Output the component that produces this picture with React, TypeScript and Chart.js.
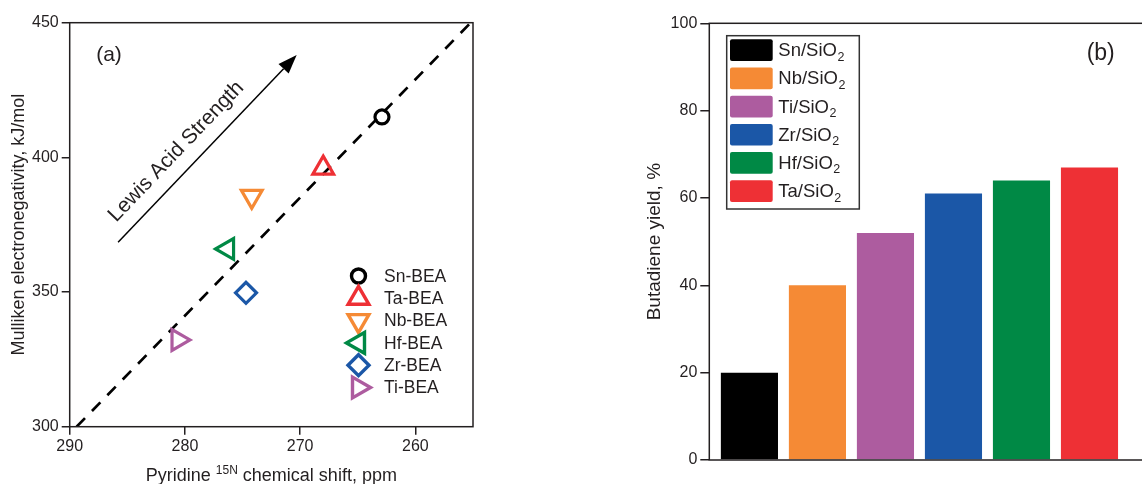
import React, { useEffect, useRef } from "react";
import { Chart, registerables } from "chart.js";

Chart.register(...registerables);

const FONT = "'Liberation Sans', Arial, Helvetica, sans-serif";
const INK = "#231f20";

// ---------- Panel (a) data ----------
const samples = ["Sn-BEA", "Ta-BEA", "Nb-BEA", "Hf-BEA", "Zr-BEA", "Ti-BEA"];
const pyridineShift = [262.9, 268.0, 274.2, 276.3, 274.7, 280.6];
const mullikenEN = [415.0, 396.0, 385.5, 366.0, 349.7, 332.2];
const sampleColors = ["#000000", "#ee3035", "#f58a35", "#008945", "#1b57a7", "#ad5c9f"];
const sampleMarkers = ["circle", "triangle", "triangle", "triangle", "rectRot", "triangle"];
const markerRotation = [0, 0, 180, -90, 0, 90];
const markerRadius = [7, 12, 12, 12, 10.5, 12];
const fitShift = [289.4, 255.2];
const fitEN = [300, 450];
const arrowShift = [285.8, 270.3];
const arrowEN = [368.5, 438];
const shiftTicks = [290, 280, 270, 260];
const enTicks = [300, 350, 400, 450];

// ---------- Panel (b) data ----------
const catalystMetals = ["Sn", "Nb", "Ti", "Zr", "Hf", "Ta"];
const butadieneYield = [20, 40, 52, 61, 64, 67];
const catalystColors = ["#000000", "#f58a35", "#ad5c9f", "#1b57a7", "#008945", "#ee3035"];
const yieldTicks = [0, 20, 40, 60, 80, 100];

function drawMarker(ctx: CanvasRenderingContext2D, style: string, x: number, y: number, r: number, rotDeg: number) {
  const rad = (rotDeg * Math.PI) / 180;
  ctx.beginPath();
  if (style === "circle") {
    ctx.arc(x, y, r, 0, Math.PI * 2);
  } else if (style === "triangle") {
    for (let k = 0; k < 3; k++) {
      const a = rad + (k * 2 * Math.PI) / 3;
      const px = x + Math.sin(a) * r;
      const py = y - Math.cos(a) * r;
      if (k === 0) ctx.moveTo(px, py);
      else ctx.lineTo(px, py);
    }
    ctx.closePath();
  } else {
    ctx.moveTo(x - r, y);
    ctx.lineTo(x, y - r);
    ctx.lineTo(x + r, y);
    ctx.lineTo(x, y + r);
    ctx.closePath();
  }
  ctx.stroke();
}

const framePlugin = {
  id: "frame",
  afterDatasetsDraw(chart: any) {
    const { ctx, chartArea } = chart;
    ctx.save();
    ctx.strokeStyle = INK;
    ctx.lineWidth = 1.5;
    ctx.strokeRect(chartArea.left, chartArea.top, chartArea.right - chartArea.left, chartArea.bottom - chartArea.top);
    ctx.restore();
  },
};

const panelAExtras = {
  id: "panelAExtras",
  afterDraw(chart: any) {
    const { ctx, scales, chartArea } = chart;
    const xs = scales.x;
    const ys = scales.y;
    ctx.save();
    // arrow
    const x0 = xs.getPixelForValue(arrowShift[0]);
    const y0 = ys.getPixelForValue(arrowEN[0]);
    const x1 = xs.getPixelForValue(arrowShift[1]);
    const y1 = ys.getPixelForValue(arrowEN[1]);
    const len = Math.hypot(x1 - x0, y1 - y0);
    const dx = (x1 - x0) / len;
    const dy = (y1 - y0) / len;
    const nx = dy; // normal pointing up-left
    const ny = -dx;
    const head = 19;
    const hw = 7;
    ctx.strokeStyle = "#000";
    ctx.fillStyle = "#000";
    ctx.lineWidth = 1.5;
    ctx.beginPath();
    ctx.moveTo(x0, y0);
    ctx.lineTo(x1 - dx * head, y1 - dy * head);
    ctx.stroke();
    ctx.beginPath();
    ctx.moveTo(x1, y1);
    ctx.lineTo(x1 - dx * head + nx * hw, y1 - dy * head + ny * hw);
    ctx.lineTo(x1 - dx * head - nx * hw, y1 - dy * head - ny * hw);
    ctx.closePath();
    ctx.fill();
    // rotated label
    const mx = (x0 + x1) / 2 - dx * 23.7 + nx * 20.5;
    const my = (y0 + y1) / 2 - dy * 23.7 + ny * 20.5;
    ctx.translate(mx, my);
    ctx.rotate(Math.atan2(dy, dx));
    ctx.font = `21px ${FONT}`;
    ctx.fillStyle = INK;
    ctx.textAlign = "center";
    ctx.textBaseline = "middle";
    ctx.fillText("Lewis Acid Strength", 0, 0);
    ctx.setTransform(1, 0, 0, 1, 0, 0);
    ctx.restore();

    ctx.save();
    // (a)
    ctx.font = `21px ${FONT}`;
    ctx.fillStyle = INK;
    ctx.textAlign = "center";
    ctx.textBaseline = "middle";
    ctx.fillText("(a)", 109, 55);

    // legend
    ctx.lineWidth = 3.4;
    ctx.font = `17.5px ${FONT}`;
    ctx.textAlign = "left";
    samples.forEach((s, i) => {
      const ly = 276 + i * 22.3;
      ctx.strokeStyle = sampleColors[i];
      drawMarker(ctx, sampleMarkers[i], 358.5, ly, markerRadius[i], markerRotation[i]);
      ctx.fillStyle = INK;
      ctx.fillText(s, 384, ly + 1);
    });

    // x title with superscript
    const cx = (chartArea.left + chartArea.right) / 2;
    const base = 481;
    const big = `18px ${FONT}`;
    const small = `12px ${FONT}`;
    const p1 = "Pyridine ";
    const p2 = "15N";
    const p3 = " chemical shift, ppm";
    ctx.textBaseline = "alphabetic";
    ctx.font = big;
    const w1 = ctx.measureText(p1).width;
    const w3 = ctx.measureText(p3).width;
    ctx.font = small;
    const w2 = ctx.measureText(p2).width;
    let sx = cx - (w1 + w2 + w3) / 2;
    ctx.font = big;
    ctx.fillText(p1, sx, base);
    sx += w1;
    ctx.font = small;
    ctx.fillText(p2, sx, base - 7);
    sx += w2;
    ctx.font = big;
    ctx.fillText(p3, sx, base);
    ctx.restore();
  },
};

const panelBExtras = {
  id: "panelBExtras",
  afterDraw(chart: any) {
    const { ctx } = chart;
    const ox = 580; // canvas left offset in page
    ctx.save();
    // legend box
    ctx.strokeStyle = "#333";
    ctx.lineWidth = 1.5;
    ctx.strokeRect(726.7 - ox, 35.7, 132.6, 173.3);
    catalystMetals.forEach((m, i) => {
      const top = 39.3 + i * 28.2;
      ctx.fillStyle = catalystColors[i];
      ctx.beginPath();
      (ctx as any).roundRect ? (ctx as any).roundRect(730 - ox, top, 42.7, 21.7, 2) : ctx.rect(730 - ox, top, 42.7, 21.7);
      ctx.fill();
      const cy = top + 21.7 / 2;
      ctx.fillStyle = INK;
      ctx.textAlign = "left";
      ctx.textBaseline = "middle";
      ctx.font = `18.5px ${FONT}`;
      const main = `${m}/SiO`;
      ctx.fillText(main, 778.3 - ox, cy + 1);
      const w = ctx.measureText(main).width;
      ctx.font = `12.5px ${FONT}`;
      ctx.fillText("2", 778.3 - ox + w + 0.5, cy + 7);
    });
    // (b)
    ctx.font = `23px ${FONT}`;
    ctx.fillStyle = INK;
    ctx.textAlign = "center";
    ctx.textBaseline = "middle";
    ctx.fillText("(b)", 1100.7 - ox, 53.3);
    ctx.restore();
  },
};

export default function App() {
  const refA = useRef<HTMLCanvasElement | null>(null);
  const refB = useRef<HTMLCanvasElement | null>(null);

  useEffect(() => {
    Chart.defaults.font.family = FONT;
    Chart.defaults.color = INK;

    const scatterSets: any[] = samples.map((s, i) => ({
      type: "scatter",
      label: s,
      data: [{ x: pyridineShift[i], y: mullikenEN[i] }],
      pointStyle: sampleMarkers[i],
      pointRotation: markerRotation[i],
      pointRadius: markerRadius[i],
      pointHoverRadius: markerRadius[i],
      pointBorderWidth: 3.2,
      pointHoverBorderWidth: 3.2,
      pointBorderColor: sampleColors[i],
      pointBackgroundColor: "rgba(0,0,0,0)",
      order: 1,
    }));
    const fitSet: any = {
      type: "line",
      label: "fit",
      data: fitShift.map((x, i) => ({ x, y: fitEN[i] })),
      borderColor: "#000",
      borderWidth: 2.7,
      borderDash: [12, 10],
      pointRadius: 0,
      fill: false,
      order: 10,
    };

    const chartA = new Chart(refA.current as HTMLCanvasElement, {
      type: "scatter",
      data: { datasets: [fitSet, ...scatterSets] },
      options: {
        animation: false,
        responsive: false,
        events: [],
        layout: { padding: { left: 0, top: 22.7, right: 27, bottom: 0 } },
        plugins: { legend: { display: false }, tooltip: { enabled: false } },
        scales: {
          x: {
            type: "linear",
            reverse: true,
            min: 255,
            max: 290,
            afterBuildTicks: (s: any) => {
              s.ticks = shiftTicks.map((v) => ({ value: v }));
            },
            afterFit: (s: any) => {
              s.height = 57.3;
            },
            grid: { drawOnChartArea: false, drawTicks: true, tickLength: 8, color: INK, lineWidth: 1.5 },
            border: { display: false },
            ticks: { color: INK, font: { size: 16 }, padding: 2, maxRotation: 0, autoSkip: false },
          },
          y: {
            type: "linear",
            min: 300,
            max: 450,
            afterBuildTicks: (s: any) => {
              s.ticks = enTicks.map((v) => ({ value: v }));
            },
            afterFit: (s: any) => {
              s.width = 69.7;
            },
            grid: { drawOnChartArea: false, drawTicks: true, tickLength: 8, color: INK, lineWidth: 1.5 },
            border: { display: false },
            ticks: { color: INK, font: { size: 16 }, padding: 3, autoSkip: false },
            title: {
              display: true,
              text: "Mulliken electronegativity, kJ/mol",
              color: INK,
              font: { size: 18 },
              padding: { top: 8.2, bottom: 0 },
            },
          },
        },
      } as any,
      plugins: [framePlugin, panelAExtras],
    });

    const barSets: any[] = catalystMetals.map((m, i) => ({
      type: "bar",
      label: `${m}/SiO2`,
      data: [{ x: i + 1, y: butadieneYield[i] }],
      backgroundColor: catalystColors[i],
      borderWidth: 0,
      grouped: false,
      barPercentage: 0.84,
      categoryPercentage: 1,
    }));

    const chartB = new Chart(refB.current as HTMLCanvasElement, {
      type: "bar",
      data: { datasets: barSets },
      options: {
        animation: false,
        responsive: false,
        events: [],
        layout: { padding: { left: 0, top: 23.3, right: 22.5, bottom: 0 } },
        plugins: { legend: { display: false }, tooltip: { enabled: false } },
        scales: {
          x: {
            type: "linear",
            offset: false,
            min: 0.41,
            max: 7,
            afterFit: (s: any) => {
              s.height = 24;
            },
            grid: { display: false, offset: false },
            border: { display: false },
            ticks: { display: false },
          },
          y: {
            type: "linear",
            min: 0,
            max: 100,
            afterBuildTicks: (s: any) => {
              s.ticks = yieldTicks.map((v) => ({ value: v }));
            },
            afterFit: (s: any) => {
              s.width = 129.3;
            },
            grid: { drawOnChartArea: false, drawTicks: true, tickLength: 9, color: INK, lineWidth: 1.5 },
            border: { display: false },
            ticks: { color: INK, font: { size: 16 }, padding: 3, autoSkip: false },
            title: {
              display: true,
              text: "Butadiene yield, %",
              color: INK,
              font: { size: 19 },
              padding: { top: 63.6, bottom: 0 },
            },
          },
        },
      } as any,
      plugins: [framePlugin, panelBExtras],
    });

    return () => {
      chartA.destroy();
      chartB.destroy();
    };
  }, []);

  return (
    <div
      style={{
        position: "fixed",
        left: 0,
        top: 0,
        width: 1142,
        height: 484,
        overflow: "hidden",
        background: "#ffffff",
      }}
    >
      <canvas ref={refA} width={500} height={484} style={{ position: "absolute", left: 0, top: 0, width: 500, height: 484 }} />
      <canvas ref={refB} width={600} height={484} style={{ position: "absolute", left: 580, top: 0, width: 600, height: 484 }} />
    </div>
  );
}
